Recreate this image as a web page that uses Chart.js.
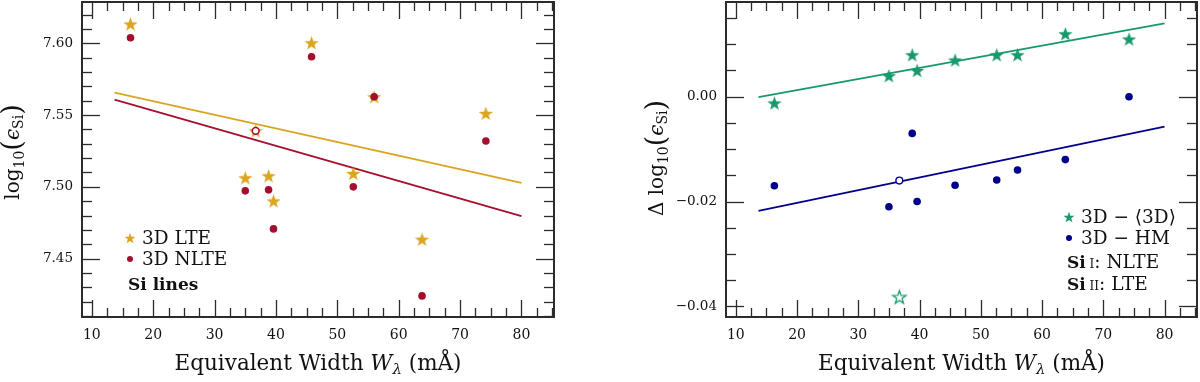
<!DOCTYPE html>
<html>
<head>
<meta charset="utf-8">
<script src="https://cdn.jsdelivr.net/npm/chart.js@4"></script>
<style>
  body { margin: 0; background: #fff; }
  .panel { position: absolute; top: 0; width: 600px; height: 382px; }
</style>
</head>
<body>
<div class="panel" style="left:0"><canvas id="leftCanvas" width="600" height="382"></canvas></div>
<div class="panel" style="left:600px"><canvas id="rightCanvas" width="600" height="382"></canvas></div>
<script>
// equivalent widths of the Si lines (mA)
const ew = [16.3, 35.0, 36.7, 38.8, 39.6, 45.8, 52.6, 56.0, 63.8, 74.2];
// left panel: abundances
const lte = [7.6135, 7.5063, 7.5390, 7.5077, 7.4902, 7.6004, 7.5093, 7.5628, 7.4635, 7.5512];
const nlte = [7.6039, 7.4972, 7.5390, 7.4979, 7.4707, 7.5907, 7.5000, 7.5628, 7.4240, 7.5319];
// right panel: differences
const dAvg = [-0.0012, 0.0040, -0.0382, 0.0080, 0.0050, 0.0070, 0.0080, 0.0080, 0.0120, 0.0110];
const dHm = [-0.0170, -0.0210, -0.0160, -0.0070, -0.0200, -0.0169, -0.0159, -0.0140, -0.0120, 0.0000];
// which point is the Si II line (open symbols)
const ionII = 2;
// fit lines (end points)
const fitX = [13.7, 80];
const fitLte = [7.5657, 7.5028];
const fitNlte = [7.5607, 7.4796];
const fitAvg = [-0.0001, 0.0140];
const fitHm = [-0.0218, -0.0057];
// ticks
const xTicks = [10, 20, 30, 40, 50, 60, 70, 80];
const leftTicks = [7.45, 7.50, 7.55, 7.60];
const rightTicks = [-0.04, -0.02, 0.00];

const GOLD = '#DAA520', RED = '#A50F2D', GREEN = '#17996B', NAVY = '#00008B';
const SERIF = '"DejaVu Serif", serif';

function starImage(R, fill, stroke, lw) {
    lw = lw || 0;
    const size = Math.ceil(2 * R + 2 * lw + 2);
    const c = document.createElement('canvas');
    c.width = c.height = size;
    const g = c.getContext('2d');
    const cx = size / 2, cy = size / 2 + R * 0.1, r = R * 0.4;
    g.beginPath();
    for (let k = 0; k < 10; k++) {
        const a = -Math.PI / 2 + k * Math.PI / 5;
        const rad = k % 2 ? r : R;
        g.lineTo(cx + rad * Math.cos(a), cy + rad * Math.sin(a));
    }
    g.closePath();
    g.fillStyle = fill;
    g.fill();
    if (stroke) {
        g.lineWidth = lw;
        g.strokeStyle = stroke;
        g.stroke();
    }
    return c;
}

const goldStar = starImage(7.5, GOLD);
const greenStar = starImage(7.5, GREEN);
const greenStarOpen = starImage(7, '#fff', GREEN, 1.3);
const goldStarSmall = starImage(5.8, GOLD);
const greenStarSmall = starImage(5.8, GREEN);

function pts(ys) {
    return ys.map((y, i) => ({ x: ew[i], y: y }));
}
function line(ys) {
    return fitX.map((x, i) => ({ x: x, y: ys[i] }));
}
function perPoint(normal, special) {
    return ew.map((_, i) => i === ionII ? special : normal);
}

// text with sub/italic pieces; parts = [{t, s, i, b, dy}]
function richWidth(ctx, parts) {
    let w = 0;
    parts.forEach(p => {
        ctx.font = (p.i ? 'italic ' : '') + (p.b ? 'bold ' : '') + p.s + 'px ' + SERIF;
        w += ctx.measureText(p.t).width;
    });
    return w;
}
function drawRich(ctx, parts, x, y, align) {
    let cx = align === 'center' ? x - richWidth(ctx, parts) / 2 : x;
    ctx.textBaseline = 'alphabetic';
    ctx.textAlign = 'left';
    parts.forEach(p => {
        ctx.font = (p.i ? 'italic ' : '') + (p.b ? 'bold ' : '') + p.s + 'px ' + SERIF;
        ctx.fillText(p.t, cx, y + (p.dy || 0));
        cx += ctx.measureText(p.t).width;
    });
}

const xTitle = [
    { t: 'Equivalent Width ', s: 21.5 },
    { t: 'W', s: 21.5, i: true },
    { t: 'λ', s: 15, i: true, dy: 4 },
    { t: ' (mÅ)', s: 21.5 }
];
const logTitle = [
    { t: 'log', s: 20 },
    { t: '10', s: 14, dy: 5 },
    { t: '(', s: 27, dy: 2 },
    { t: 'ϵ', s: 20, i: true },
    { t: 'Si', s: 14, dy: 4 },
    { t: ')', s: 27, dy: 2 }
];

// frame with inward ticks on all four sides, axis titles and the text legend
const framePlugin = {
    id: 'frame',
    afterDraw(chart, args, opts) {
        const { ctx, chartArea: a, scales: { x, y } } = chart;
        ctx.save();
        ctx.strokeStyle = '#2b2b2b';
        ctx.lineWidth = 1.3;
        const tick = (x1, y1, x2, y2) => {
            ctx.beginPath();
            ctx.moveTo(x1, y1);
            ctx.lineTo(x2, y2);
            ctx.stroke();
        };
        // x ticks, major every 10, minor every 2.5
        for (let v = Math.ceil(x.min / 2.5) * 2.5; v <= x.max; v += 2.5) {
            const px = Math.round(x.getPixelForValue(v)) + 0.5;
            const len = Math.abs(v % 10) < 1e-6 ? 17 : 9;
            tick(px, a.bottom, px, a.bottom - len);
            tick(px, a.top, px, a.top + len);
        }
        // y ticks
        const st = opts.minor, maj = opts.major;
        for (let k = Math.ceil(y.min / st - 1e-6); k * st <= y.max + 1e-9; k++) {
            const v = k * st;
            const py = Math.round(y.getPixelForValue(v)) + 0.5;
            const isMaj = Math.abs(v / maj - Math.round(v / maj)) < 1e-6;
            const len = isMaj ? 18 : 10;
            tick(a.left, py, a.left + len, py);
            tick(a.right, py, a.right - len, py);
        }
        // box
        ctx.lineWidth = 2;
        ctx.strokeRect(a.left, a.top, a.right - a.left, a.bottom - a.top);

        ctx.fillStyle = '#111';
        drawRich(ctx, xTitle, (a.left + a.right) / 2, 370, 'center');

        ctx.save();
        ctx.translate(opts.yTitleX, opts.yTitleY);
        ctx.rotate(-Math.PI / 2);
        drawRich(ctx, opts.yTitle, 0, 0, 'center');
        ctx.restore();

        // legend
        opts.legend.forEach(item => {
            if (item.img) {
                ctx.drawImage(item.img, item.mx - item.img.width / 2, item.my - item.img.height / 2);
            }
            if (item.dot) {
                ctx.fillStyle = item.dot;
                ctx.beginPath();
                ctx.arc(item.mx, item.my, 3, 0, Math.PI * 2);
                ctx.fill();
            }
            ctx.fillStyle = '#111';
            drawRich(ctx, item.parts, item.tx, item.ty, 'left');
        });
        ctx.restore();
    }
};

function makeChart(id, datasets, yMin, yMax, yTicks, fmt, yWidth, padRight, frameOpts) {
    const ctx = document.getElementById(id).getContext('2d');
    return new Chart(ctx, {
        type: 'scatter',
        data: { datasets: datasets },
        options: {
            responsive: false,
            animation: false,
            layout: { autoPadding: false, padding: { top: 2, right: padRight, left: 0, bottom: 0 } },
            plugins: { legend: { display: false }, tooltip: { enabled: false }, frame: frameOpts },
            scales: {
                x: {
                    type: 'linear', min: 8.4, max: 85.3,
                    afterBuildTicks: s => { s.ticks = xTicks.map(v => ({ value: v })); },
                    afterFit: s => { s.height = 65; s.paddingLeft = 0; s.paddingRight = 0; },
                    grid: { display: false, drawTicks: false },
                    border: { display: false },
                    ticks: { autoSkip: false, maxRotation: 0, padding: 10, color: '#111',
                             font: { family: SERIF, size: 14 } }
                },
                y: {
                    type: 'linear', min: yMin, max: yMax,
                    afterBuildTicks: s => { s.ticks = yTicks.map(v => ({ value: v })); },
                    afterFit: s => { s.width = yWidth; s.paddingTop = 0; s.paddingBottom = 0; },
                    grid: { display: false, drawTicks: false },
                    border: { display: false },
                    ticks: { autoSkip: false, padding: 9, color: '#111', callback: fmt,
                             font: { family: SERIF, size: 13.5 } }
                }
            }
        },
        plugins: [framePlugin]
    });
}

const lineStyle = { showLine: true, pointRadius: 0, borderWidth: 1.8, fill: false };

makeChart('leftCanvas', [
    { label: '3D NLTE', data: pts(nlte), order: 0, pointStyle: 'circle',
      pointRadius: perPoint(3.8, 3.4), pointBackgroundColor: perPoint(RED, '#fff'),
      pointBorderColor: RED, pointBorderWidth: perPoint(0, 1.6) },
    { label: '3D LTE', data: pts(lte), order: 1, pointStyle: goldStar, pointRadius: 7 },
    Object.assign({ label: 'fit LTE', data: line(fitLte), borderColor: GOLD, order: 2 }, lineStyle),
    Object.assign({ label: 'fit NLTE', data: line(fitNlte), borderColor: RED, order: 2 }, lineStyle)
], 7.4093, 7.6288, leftTicks, v => v.toFixed(2), 82, 46, {
    minor: 0.01, major: 0.05,
    yTitle: logTitle, yTitleX: 19, yTitleY: 152,
    legend: [
        { img: goldStarSmall, mx: 130, my: 238, tx: 142, ty: 244, parts: [{ t: '3D LTE', s: 18.5 }] },
        { dot: RED, mx: 130, my: 259, tx: 142, ty: 265, parts: [{ t: '3D NLTE', s: 18.5 }] },
        { tx: 128, ty: 290, parts: [{ t: 'Si lines', s: 17, b: true }] }
    ]
});

makeChart('rightCanvas', [
    { label: '3D - <3D>', data: pts(dAvg), order: 0,
      pointStyle: perPoint(greenStar, greenStarOpen), pointRadius: 7 },
    { label: '3D - HM', data: pts(dHm), order: 1, pointStyle: 'circle',
      pointRadius: perPoint(3.8, 3.4), pointBackgroundColor: perPoint(NAVY, '#fff'),
      pointBorderColor: NAVY, pointBorderWidth: perPoint(0, 1.4) },
    Object.assign({ label: 'fit avg', data: line(fitAvg), borderColor: GREEN, order: 2 }, lineStyle),
    Object.assign({ label: 'fit HM', data: line(fitHm), borderColor: NAVY, order: 2 }, lineStyle)
], -0.04204, 0.01807, rightTicks, v => (v < 0 ? '\u2212' : '') + Math.abs(v).toFixed(2), 126, 3, {
    minor: 0.005, major: 0.02,
    yTitle: [{ t: 'Δ ', s: 20 }].concat(logTitle), yTitleX: 63, yTitleY: 158,
    legend: [
        { img: greenStarSmall, mx: 469, my: 217, tx: 481, ty: 223, parts: [{ t: '3D − ⟨3D⟩', s: 18.5 }] },
        { dot: NAVY, mx: 469, my: 238, tx: 481, ty: 244, parts: [{ t: '3D − HM', s: 18.5 }] },
        { tx: 467, ty: 268, parts: [{ t: 'Si', s: 17, b: true }, { t: ' I', s: 12 }, { t: ': NLTE', s: 18.5 }] },
        { tx: 467, ty: 290, parts: [{ t: 'Si', s: 17, b: true }, { t: ' II', s: 12 }, { t: ': LTE', s: 18.5 }] }
    ]
});
</script>
</body>
</html>
